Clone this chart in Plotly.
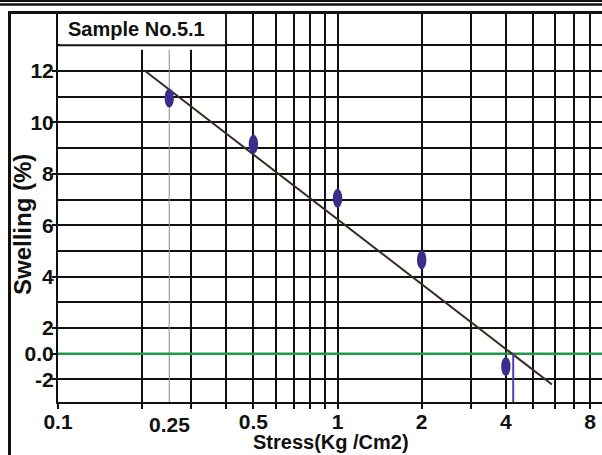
import numpy as np
import plotly.graph_objects as go

# ---------------- data ----------------
stress = [0.25, 0.5, 1.0, 2.0, 4.0]            # Kg/Cm2
swelling = [10.95, 9.15, 7.05, 4.65, 0.5]       # in axis units of the chart
trend_x = [0.205, 5.85]
trend_y = [12.0, -0.2]
zero_level = 1.0          # green "0.0" line (axis units)
swell_pressure = 4.25     # purple marker line
x_tick_vals = [0.1, 0.5, 1, 2, 4, 8]
x_tick_text = ["0.1", "0.5", "1", "2", "4", "8"]
x_extra_label = 0.25
x_minor_vals = [0.2, 0.3, 0.4, 0.6, 0.7, 0.8, 0.9, 3, 5, 6, 7]
y_tick_vals = [12, 10, 8, 6, 4, 2, 1, 0]
y_tick_text = ["12", "10", "8", "6", "4", "2", "0.0", "-2"]
y_minor_vals = [3, 5, 7, 9, 11, 13]
title_text = "Sample No.5.1"
x_title = "Stress(Kg /Cm2)"
y_title = "Swelling (%)"

FONT = "Liberation Sans, Arial, sans-serif"
BLACK = "#111111"
XRANGE = [-1, 0.946]

fig = go.Figure()

fig.add_trace(go.Scatter(x=[0.1, 12], y=[zero_level, zero_level], mode="lines",
                         line=dict(color="#1f9a4c", width=2.5), hoverinfo="skip",
                         showlegend=False))
fig.add_trace(go.Scatter(x=trend_x, y=trend_y, mode="lines",
                         line=dict(color="#3b2a22", width=2), showlegend=False))
fig.add_trace(go.Scatter(x=[swell_pressure, swell_pressure], y=[zero_level, -0.88],
                         mode="lines", line=dict(color="#5a3ea0", width=2),
                         showlegend=False))
# invisible trace on a linear twin axis (log10 of stress) used to anchor the ellipses
log_stress = np.log10(stress)
fig.add_trace(go.Scatter(x=log_stress, y=swelling, xaxis="x2", mode="markers",
                         marker=dict(size=1, opacity=0), hoverinfo="skip",
                         showlegend=False))

shapes = []
shapes.append(dict(type="line", xref="x", yref="y", x0=x_extra_label, x1=x_extra_label,
                   y0=-0.88, y1=12.85, line=dict(color="#8a8a8a", width=1),
                   layer="between"))
for xs, ys in zip(log_stress, swelling):
    shapes.append(dict(type="circle", xref="x2", yref="y",
                       xsizemode="pixel", ysizemode="pixel",
                       xanchor=float(xs), yanchor=ys, x0=-4.7, x1=4.7, y0=-9.5, y1=9.5,
                       fillcolor="#3b2d8c", line=dict(width=0), layer="above"))
shapes.append(dict(type="rect", xref="x", yref="y", x0=0.1018, x1=0.396,
                   y0=12.83, y1=14.3, fillcolor="white", line=dict(width=0),
                   layer="above"))
shapes.append(dict(type="line", xref="x", yref="y", x0=0.1, x1=0.4, y0=13, y1=13,
                   line=dict(color=BLACK, width=2), layer="above"))
W, H = 602, 455
L, R, T, B = 58, 0, 14, 53
pw, ph = W - L - R, H - T - B


def px(xp):
    return (xp - L) / pw


def py(yp):
    return (H - B - yp) / ph


for yy, w in [(1, 2), (4.5, 2.5)]:
    shapes.append(dict(type="line", xref="paper", yref="paper", x0=px(0), x1=px(W),
                       y0=py(yy), y1=py(yy), line=dict(color=BLACK, width=w)))
shapes.append(dict(type="line", xref="paper", yref="paper", x0=px(8), x1=px(W),
                   y0=py(12.5), y1=py(12.5), line=dict(color=BLACK, width=3)))
shapes.append(dict(type="line", xref="paper", yref="paper", x0=px(9.5), x1=px(9.5),
                   y0=py(11.5), y1=py(H), line=dict(color=BLACK, width=3)))

annotations = [
    dict(text=title_text, xref="paper", yref="paper", x=px(66), y=py(29),
         xanchor="left", yanchor="middle", showarrow=False,
         font=dict(family=FONT, size=20, color=BLACK, weight="bold")),
    dict(text=str(x_extra_label), xref="x", yref="paper", x=np.log10(x_extra_label),
         y=py(424), xanchor="center", yanchor="middle", showarrow=False,
         font=dict(family=FONT, size=21, color=BLACK, weight="bold")),
    dict(text=x_title, xref="paper", yref="paper", x=px(331), y=py(442),
         xanchor="center", yanchor="middle", showarrow=False,
         font=dict(family=FONT, size=20, color=BLACK, weight="bold")),
    dict(text=y_title, xref="paper", yref="paper", x=px(22), y=py(225),
         xanchor="center", yanchor="middle", showarrow=False, textangle=-90,
         font=dict(family=FONT, size=24, color=BLACK, weight="bold")),
]

fig.update_layout(
    width=W, height=H,
    margin=dict(l=L, r=R, t=T, b=B),
    paper_bgcolor="white", plot_bgcolor="white",
    showlegend=False,
    shapes=shapes, annotations=annotations,
    xaxis=dict(type="log", range=XRANGE, tickvals=x_tick_vals, ticktext=x_tick_text,
               showgrid=True, gridcolor=BLACK, gridwidth=2,
               ticks="outside", ticklen=5, tickwidth=2, tickcolor=BLACK,
               ticklabelstandoff=-5,
               showline=True, linecolor=BLACK, linewidth=2, zeroline=False,
               tickfont=dict(family=FONT, size=21, color=BLACK, weight="bold"),
               minor=dict(tickvals=x_minor_vals, showgrid=True, gridcolor=BLACK,
                          gridwidth=2, ticks="outside", ticklen=5, tickwidth=2,
                          tickcolor=BLACK)),
    xaxis2=dict(type="linear", range=XRANGE, overlaying="x", visible=False,
                showgrid=False, zeroline=False),
    yaxis=dict(range=[-0.88, 14.22], tickvals=y_tick_vals, ticktext=y_tick_text,
               showgrid=True, gridcolor=BLACK, gridwidth=2,
               ticks="outside", ticklen=4, tickwidth=2, tickcolor=BLACK,
               ticklabelstandoff=-6,
               showline=True, linecolor=BLACK, linewidth=2, zeroline=False,
               tickfont=dict(family=FONT, size=21, color=BLACK, weight="bold"),
               minor=dict(tickvals=y_minor_vals, showgrid=True, gridcolor=BLACK,
                          gridwidth=2, ticks="")),
)

fig.write_html("out.html")
